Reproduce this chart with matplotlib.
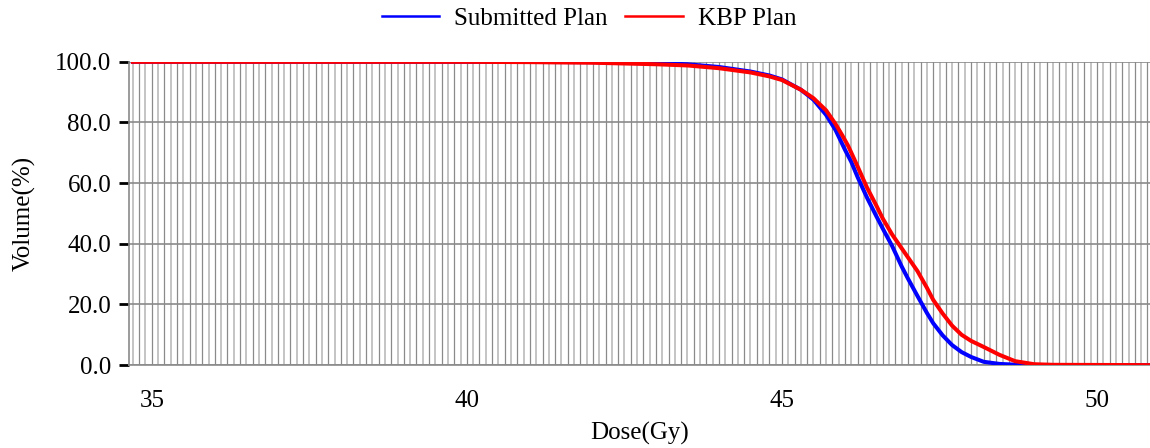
import numpy as np
import matplotlib
matplotlib.use("Agg")
import matplotlib.pyplot as plt
from matplotlib.ticker import FixedLocator

plt.rcParams['font.family'] = ['Liberation Serif', 'DejaVu Serif']

# DVH data
dose_sub = [34.7, 40.0, 42.0, 43.0, 43.5, 44.0, 44.5, 44.8, 45.0, 45.3, 45.5, 45.7,
            45.85, 46.0, 46.1, 46.2, 46.35, 46.5, 46.6, 46.75, 46.9, 47.0, 47.15,
            47.3, 47.4, 47.55, 47.7, 47.85, 48.0, 48.2, 48.45, 48.75, 49.0, 50.84]
vol_sub = [100.0, 100.0, 99.9, 99.6, 99.2, 98.3, 96.8, 95.5, 94.2, 90.8, 87.5, 82.5,
           77.5, 71.0, 67.0, 62.0, 55.2, 49.0, 45.0, 39.2, 32.5, 28.5, 22.8,
           17.2, 13.8, 9.8, 6.6, 4.3, 2.7, 1.1, 0.4, 0.1, 0.0, 0.0]

dose_kbp = [34.7, 40.0, 41.0, 42.0, 43.0, 43.5, 44.0, 44.5, 44.8, 45.0, 45.3, 45.5,
            45.7, 45.85, 45.95, 46.05, 46.2, 46.35, 46.5, 46.6, 46.75, 46.9, 47.0,
            47.15, 47.3, 47.4, 47.55, 47.7, 47.85, 48.0, 48.2, 48.45, 48.7, 49.0,
            49.3, 50.84]
vol_kbp = [100.0, 100.0, 99.9, 99.7, 99.2, 98.8, 97.9, 96.5, 95.2, 94.0, 90.8, 88.0,
           84.0, 79.5, 76.0, 72.3, 65.5, 58.5, 52.5, 48.3, 43.0, 38.5, 35.5,
           31.0, 25.5, 21.5, 17.0, 13.0, 10.0, 8.0, 6.0, 3.4, 1.3, 0.3,
           0.1, 0.0]

x_ticks = [35, 40, 45, 50]
y_ticks = [0, 20, 40, 60, 80, 100]

fig = plt.figure(figsize=(11.5, 4.48), dpi=100)
ax = fig.add_axes([0.112, 0.185, 0.888, 0.677])

xmin, xmax = 34.635, 50.84
ax.set_xlim(xmin, xmax)
ax.set_ylim(0, 100)

# fine vertical grid, alternating dark / light every 0.1 Gy
for i, g in enumerate(np.arange(34.7, xmax + 0.01, 0.1)):
    if i % 2 == 1:
        ax.axvline(g, color='#8a8a8a', lw=0.9, zorder=1)
    else:
        ax.axvline(g, color='#c4c4c4', lw=1.4, zorder=1)
for y in y_ticks:
    ax.axhline(y, color='#8a8a8a', lw=1.2, zorder=1)

ax.plot(dose_sub, vol_sub, color='#0000ff', lw=2.9, label='Submitted Plan', zorder=3)
ax.plot(dose_kbp, vol_kbp, color='#ff0000', lw=2.9, label='KBP Plan', zorder=4)

ax.xaxis.set_major_locator(FixedLocator(x_ticks))
ax.yaxis.set_major_locator(FixedLocator(y_ticks))
ax.set_yticklabels(['%.1f' % v for v in y_ticks])
ax.tick_params(axis='x', length=0, pad=18, labelsize=18)
ax.tick_params(axis='y', length=7.2, width=2, color='black', pad=5.5, labelsize=18)

for s in ['top', 'right']:
    ax.spines[s].set_visible(False)
ax.spines['left'].set_color('#8a8a8a')
ax.spines['bottom'].set_color('#8a8a8a')
ax.spines['left'].set_linewidth(1.2)
ax.spines['bottom'].set_linewidth(1.2)

ax.set_xlabel('Dose(Gy)', fontsize=18, labelpad=7)
ax.set_ylabel('Volume(%)', fontsize=18, labelpad=14)

fig.legend(loc='center', bbox_to_anchor=(0.512, 0.958), ncol=2, frameon=False,
           fontsize=18, handlelength=2.3, handletextpad=0.6, columnspacing=0.7)
leg = fig.legends[0]
for h in leg.get_lines():
    h.set_linewidth(1.8)

fig.savefig('out.png', dpi=100)
